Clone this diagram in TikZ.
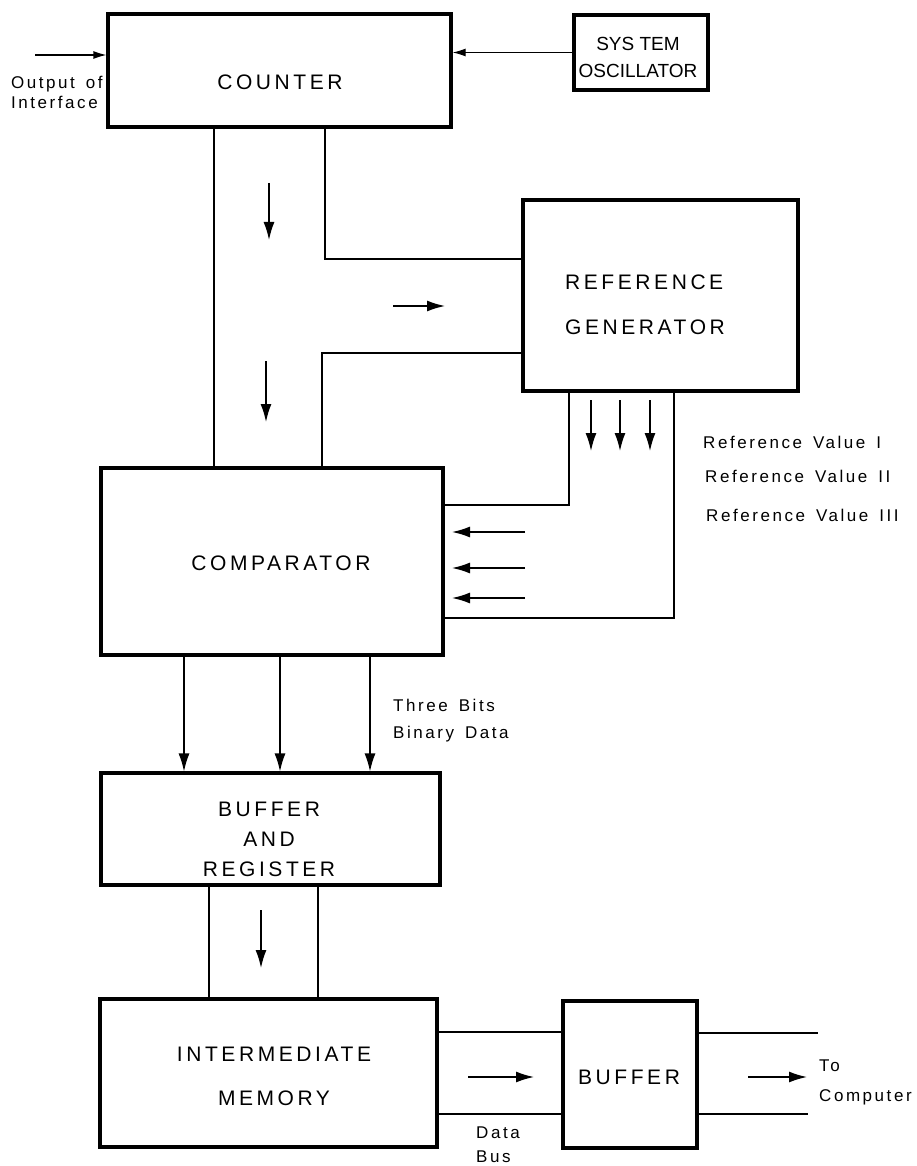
\documentclass[tikz,border=0pt]{standalone}
\usepackage{fontspec}
\setmainfont{Liberation Sans}
\newfontfamily\boxfont[LetterSpace=17]{Liberation Sans}
\newfontfamily\lblfont[LetterSpace=15]{Liberation Sans}
\newcommand\widespace{\spaceskip=11pt plus 2pt\relax}
\usetikzlibrary{arrows.meta}
\begin{document}
\begin{tikzpicture}[x=1pt,y=-1pt,
  blk/.style={draw, line width=3.2pt, inner sep=0pt},
  btxt/.style={inner sep=0pt, align=center, font=\boxfont\fontsize{21}{#1}\selectfont},
  btxt/.default={24},
  ltxt/.style={inner sep=0pt, anchor=west, align=left, font=\lblfont\fontsize{17}{#1}\selectfont\widespace},
  ltxt/.default={20},
  wire/.style={line width=1.4pt},
  bigarrow/.style={line width=1.5pt, -{Latex[length=18pt,width=11pt]}},
  smallarrow/.style={line width=1.2pt, -{Latex[length=13pt,width=8pt]}}]
\useasboundingbox (0,0) rectangle (917,1166);

% blocks
\node[blk, minimum width=343pt, minimum height=113pt] (counter) at (279.5,70.5) {};
\node[blk, minimum width=134pt, minimum height=75pt] (osc) at (641,52.5) {};
\node[blk, minimum width=275pt, minimum height=191pt] (refgen) at (660.5,295.5) {};
\node[blk, minimum width=342pt, minimum height=187pt] (comp) at (272,561.5) {};
\node[blk, minimum width=339pt, minimum height=112pt] (bar) at (270.5,829) {};
\node[blk, minimum width=337pt, minimum height=148pt] (mem) at (268.5,1073) {};
\node[blk, minimum width=134pt, minimum height=147pt] (buf) at (630,1074.5) {};

% block texts
\node[btxt] (tcounter) at (280,82) {COUNTER};
\node[inner sep=0pt, align=center, font=\fontsize{19}{27}\selectfont] (tosc) at (638,57.5) {SYS TEM\\OSCILLATOR};
\node[btxt=45, anchor=west, align=left] (trefgen) at (565,304.5) {REFERENCE\\GENERATOR};
\node[btxt] (tcomp) at (281,563) {COMPARATOR};
\node[btxt=30] (tbar) at (269,839) {BUFFER\\AND\\REGISTER};
\node[btxt=44] (tmem) at (274,1076) {INTERMEDIATE\\MEMORY};
\node[btxt] (tbuf) at (629,1077) {BUFFER};

% labels
\node[ltxt] (lin) at (11,92) {Output of\\Interface};
\node[ltxt] (lr1) at (703,442) {Reference Value I};
\node[ltxt] (lr2) at (705,476) {Reference Value II};
\node[ltxt] (lr3) at (706,515) {Reference Value III};
\node[ltxt=27] (lbits) at (393,720.5) {Three Bits\\Binary Data};
\node[ltxt=30] (lcomp) at (819,1082) {To\\Computer};
\node[ltxt=24] (lbus) at (476,1145) {Data\\Bus};

% input arrows
\coordinate (inp) at (35,55);
\draw[smallarrow] (inp) -- (counter.west |- inp);
\draw[smallarrow] (osc.west) -- (osc.west -| counter.east);

% bus from counter
\draw[wire] (counter.south -| 214,0) -- (comp.north -| 214,0);
\draw[wire] (counter.south -| 325,0) -- (325,259) -- (refgen.west |- 0,259);
\draw[wire] (refgen.west |- 0,353) -- (322,353) -- (comp.north -| 322,0);
\draw[bigarrow] (269,183) -- (269,240);
\draw[bigarrow] (266,361) -- (266,422);
\draw[bigarrow] (393,306) -- (445,306);

% reference values bus
\draw[wire] (refgen.south -| 569,0) -- (569,505) -- (comp.east |- 0,505);
\draw[wire] (refgen.south -| 674,0) -- (674,618) -- (comp.east |- 0,618);
\foreach \x in {591,620,650} \draw[bigarrow] (\x,400) -- (\x,451);
\foreach \y in {532,568,598} \draw[bigarrow] (525,\y) -- (452,\y);

% comparator to buffer and register
\foreach \x in {184,280,370} \draw[bigarrow, line width=1.3pt] (comp.south -| \x,0) -- (bar.north -| \x,0);

% bus to intermediate memory
\draw[wire] (bar.south -| 209,0) -- (mem.north -| 209,0);
\draw[wire] (bar.south -| 318,0) -- (mem.north -| 318,0);
\draw[bigarrow] (261,910) -- (261,968);

% data bus
\draw[wire] (mem.east |- 0,1032) -- (buf.west |- 0,1032);
\draw[wire] (mem.east |- 0,1114) -- (buf.west |- 0,1114);
\draw[bigarrow] (468,1077) -- (534,1077);

% to computer
\coordinate (o1) at (818,1033);
\coordinate (o2) at (808,1114);
\draw[wire] (buf.east |- o1) -- (o1);
\draw[wire] (buf.east |- o2) -- (o2);
\draw[bigarrow] (748,1077) -- (807,1077);
\end{tikzpicture}
\end{document}
